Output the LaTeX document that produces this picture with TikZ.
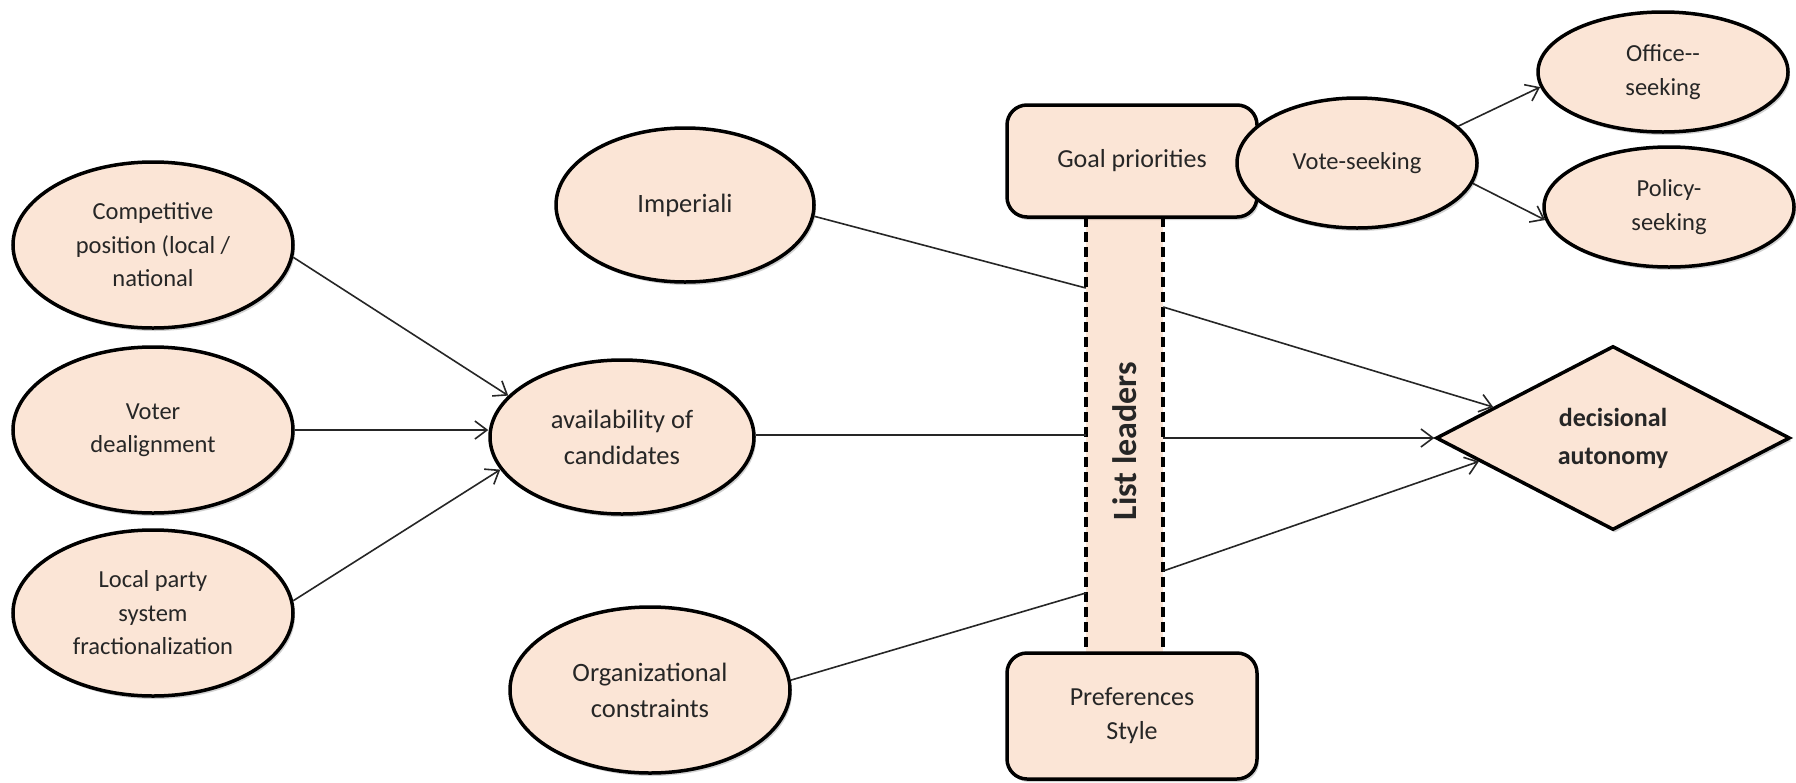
\documentclass[tikz,border=0pt]{standalone}
\usepackage{fontspec}
\setmainfont{Carlito}
\usetikzlibrary{shapes.geometric,arrows.meta,calc,shadows}
\definecolor{peach}{HTML}{FBE5D6}
\definecolor{ink}{HTML}{262626}
\begin{document}
\begin{tikzpicture}[x=1pt,y=-1pt,
  every node/.style={text=ink},
  softshadow/.style={drop shadow={shadow xshift=2pt,shadow yshift=-3pt,opacity=0.18,fill=black}},
  oval/.style={ellipse,draw=black,line width=3.5pt,fill=peach,inner sep=0pt,align=center,
    font=\fontsize{24.5}{33.5}\selectfont,softshadow},
  bigtext/.style={font=\fontsize{26.5}{36}\selectfont},
  rbox/.style={rectangle,rounded corners=20pt,draw=black,line width=3.5pt,fill=peach,inner sep=0pt,
    align=center,minimum width=250pt,font=\fontsize{26}{34}\selectfont,softshadow},
  barside/.style={line width=3.5pt,dash pattern=on 10pt off 5pt},
  link/.style={draw=ink,line width=1.6pt},
  arr/.style={link,-{Straight Barb[length=12pt,width=18pt]}},
]
\useasboundingbox (0,0) rectangle (1796,782);
\fill[white] (0,0) rectangle (1796,782);

% left column
\node[oval,minimum width=280pt,minimum height=166pt] (comp) at (153,245) {Competitive\\position (local /\\national};
\node[oval,minimum width=280pt,minimum height=166pt] (voter) at (153,430) {Voter\\dealignment};
\node[oval,minimum width=280pt,minimum height=166pt] (local) at (153,613) {Local party\\system\\fractionalization};

% middle column
\node[oval,bigtext,minimum width=264pt,minimum height=154pt] (avail) at (622,437) {availability of\\candidates};
\node[oval,bigtext,minimum width=258pt,minimum height=154pt] (imp) at (685,205) {Imperiali};
\node[oval,bigtext,minimum width=280pt,minimum height=166pt] (org) at (650,690) {Organizational\\constraints};

% list leaders bar
\node[fill=peach,minimum width=77pt,minimum height=436pt,inner sep=0pt] (bar) at (1124.5,435) {};
\draw[barside] (bar.north west) -- (bar.south west);
\draw[barside] (bar.north east) -- (bar.south east);
\node[rotate=90,font=\bfseries\fontsize{34}{40}\selectfont] (ll) at (1125,441) {List leaders};

% boxes
\node[rbox,minimum height=112pt] (goal) at (1132,161) {Goal priorities};
\node[rbox,minimum height=126pt] (pref) at (1132,716) {Preferences\\Style};

% goals
\node[oval,minimum width=240pt,minimum height=130pt] (vote) at (1357,163) {Vote-seeking};
\node[oval,minimum width=250pt,minimum height=120pt] (office) at (1663,72) {Office-{}-\\seeking};
\node[oval,minimum width=250pt,minimum height=120pt] (policy) at (1669,207) {Policy-\\seeking};

% outcome
\node[diamond,draw=black,line width=3.5pt,fill=peach,inner sep=0pt,minimum width=354pt,minimum height=184pt,
  align=center,font=\bfseries\fontsize{26}{38}\selectfont,softshadow] (dec) at (1613,438) {decisional\\autonomy};

% connectors
\draw[arr] (comp.-5) -- (avail.160);
\draw[arr] (voter.east) -- (voter.east -| avail.west);
\draw[arr] (local.5) -- (avail.195);
\draw[link] (avail.east |- bar.west) -- (bar.west);
\draw[arr] (bar.east |- dec.west) -- (dec.west);
\draw[link] (imp.-5) -- (bar.west |- 0,288);
\draw[arr] (bar.east |- 0,307) -- ($(dec.west)!0.33!(dec.north)$);
\draw[link] (org.4) -- (bar.west |- 0,593);
\draw[arr] (bar.east |- 0,571) -- ($(dec.west)!0.25!(dec.south)$);
\draw[arr] (vote.20) -- (office.187);
\draw[arr] (vote.-10) -- (policy.186);
\end{tikzpicture}
\end{document}
